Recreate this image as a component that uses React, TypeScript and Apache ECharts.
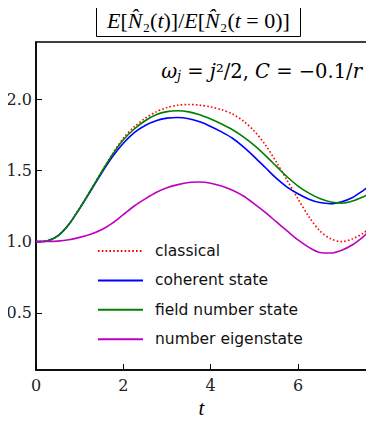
import React, { useEffect, useRef } from "react";
import * as echarts from "echarts";

const tValues = [0, 0.25, 0.5, 0.75, 1, 1.25, 1.5, 1.75, 2, 2.25, 2.5, 2.75, 3, 3.25, 3.5, 3.75, 4, 4.25, 4.5, 4.75, 5, 5.25, 5.5, 5.75, 6, 6.25, 6.5, 6.75, 7, 7.25, 7.5, 7.58];
const classical = [1.0, 1.005, 1.04, 1.12, 1.235, 1.36, 1.49, 1.615, 1.725, 1.805, 1.865, 1.91, 1.94, 1.957, 1.962, 1.957, 1.945, 1.925, 1.895, 1.845, 1.775, 1.68, 1.56, 1.43, 1.3, 1.175, 1.075, 1.02, 1.0, 1.02, 1.06, 1.08];
const coherent = [1.0, 1.005, 1.04, 1.12, 1.232, 1.355, 1.48, 1.595, 1.69, 1.765, 1.815, 1.848, 1.866, 1.871, 1.862, 1.84, 1.808, 1.77, 1.725, 1.665, 1.595, 1.52, 1.445, 1.383, 1.336, 1.298, 1.274, 1.266, 1.28, 1.31, 1.36, 1.378];
const fieldNumber = [1.0, 1.005, 1.04, 1.12, 1.235, 1.36, 1.488, 1.61, 1.715, 1.79, 1.848, 1.89, 1.912, 1.918, 1.91, 1.89, 1.86, 1.825, 1.785, 1.735, 1.675, 1.605, 1.53, 1.455, 1.39, 1.34, 1.302, 1.278, 1.27, 1.285, 1.315, 1.328];
const numberEigen = [1.0, 1.001, 1.004, 1.013, 1.03, 1.052, 1.083, 1.13, 1.19, 1.25, 1.3, 1.345, 1.378, 1.4, 1.415, 1.418, 1.41, 1.39, 1.36, 1.32, 1.265, 1.205, 1.14, 1.075, 1.012, 0.96, 0.924, 0.92, 0.94, 0.978, 1.035, 1.06];
const yTicks = [0.5, 1.0, 1.5, 2.0];
const xTicks = [0, 2, 4, 6];
const seriesNames = ["classical", "coherent state", "field number state", "number eigenstate"];

const serif = "'DejaVu Serif', 'Liberation Serif', serif";
const serif2 = "'Liberation Serif', serif";
const sans = "'DejaVu Sans', sans-serif";

export default function App() {
  const ref = useRef<HTMLDivElement>(null);
  useEffect(() => {
    if (!ref.current) return;
    const chart = echarts.init(ref.current, null, { renderer: "svg" });
    const mk = (vals: number[]) => tValues.map((t, i) => [t, vals[i]]);
    const colors = ["#ff0000", "#0000ff", "#008000", "#bf00bf"];
    const datas = [classical, coherent, fieldNumber, numberEigen];
    chart.setOption({
      animation: false,
      backgroundColor: "#ffffff",
      title: {
        text: "{i|E}[{i|N̂}₂({i|t})]/{i|E}[{i|N̂}₂({i|t} = 0)]",
        left: 96,
        top: 2,
        padding: [7, 11, 6, 11],
        borderColor: "#000",
        borderWidth: 1,
        textStyle: {
          fontFamily: serif2,
          fontSize: 22,
          fontWeight: "normal",
          color: "#000",
          rich: {
            i: { fontFamily: serif2, fontSize: 22, fontStyle: "italic", color: "#000" },
          },
        },
      },
      grid: { left: 36, right: 7, top: 42, bottom: 54, show: true, borderColor: "#000", borderWidth: 1.5 },
      legend: {
        orient: "vertical",
        left: 92,
        top: 238,
        itemWidth: 45,
        itemHeight: 14,
        itemGap: 13.4,
        itemStyle: { opacity: 0 },
        data: seriesNames,
        textStyle: { fontFamily: sans, fontSize: 15.5, color: "#111", padding: [0, 0, 0, 7] },
      },
      xAxis: {
        type: "value",
        min: 0,
        max: 7.58,
        interval: 2,
        name: "t",
        nameLocation: "middle",
        nameGap: 24,
        nameTextStyle: { fontFamily: serif2, fontStyle: "italic", fontSize: 21, color: "#000" },
        axisLine: { show: true, lineStyle: { color: "#000", width: 1.5 } },
        axisTick: { show: true, inside: true, length: 6, lineStyle: { color: "#000" } },
        axisLabel: { fontFamily: serif, fontSize: 16, color: "#222", margin: 7, customValues: xTicks },
        splitLine: { show: false },
      },
      yAxis: {
        type: "value",
        min: 0.1,
        max: 2.4,
        axisLine: { show: true, lineStyle: { color: "#000", width: 1.5 } },
        axisTick: { show: true, inside: true, length: 6, lineStyle: { color: "#000" }, customValues: yTicks },
        axisLabel: {
          fontFamily: serif,
          fontSize: 16,
          color: "#222",
          margin: 4,
          customValues: yTicks,
          formatter: (v: number) => v.toFixed(1),
        },
        splitLine: { show: false },
      },
      graphic: [
        {
          type: "text",
          right: 12,
          top: 61,
          style: {
            text: "{i|ω}{s|j} = {i|j}²/2, {i|C} = −0.1/{i|r}",
            font: `19.5px ${serif}`,
            fill: "#000",
            rich: {
              i: { fontFamily: serif, fontSize: 19.5, fontStyle: "italic", fill: "#000" },
              s: { fontFamily: serif, fontSize: 13, fontStyle: "italic", fill: "#000", verticalAlign: "bottom", padding: [9, 0, 0, 0] },
            },
          },
        },
      ],
      series: datas.map((d, i) => ({
        name: seriesNames[i],
        type: "line",
        data: mk(d),
        smooth: 0.3,
        showSymbol: false,
        symbol: "none",
        lineStyle: { color: colors[i], width: 1.6, type: i === 0 ? [1.6, 2.2] : "solid" },
        itemStyle: { color: colors[i] },
      })),
    });
    return () => chart.dispose();
  }, []);
  return <div ref={ref} style={{ width: 374, height: 424, margin: -8 }} />;
}
